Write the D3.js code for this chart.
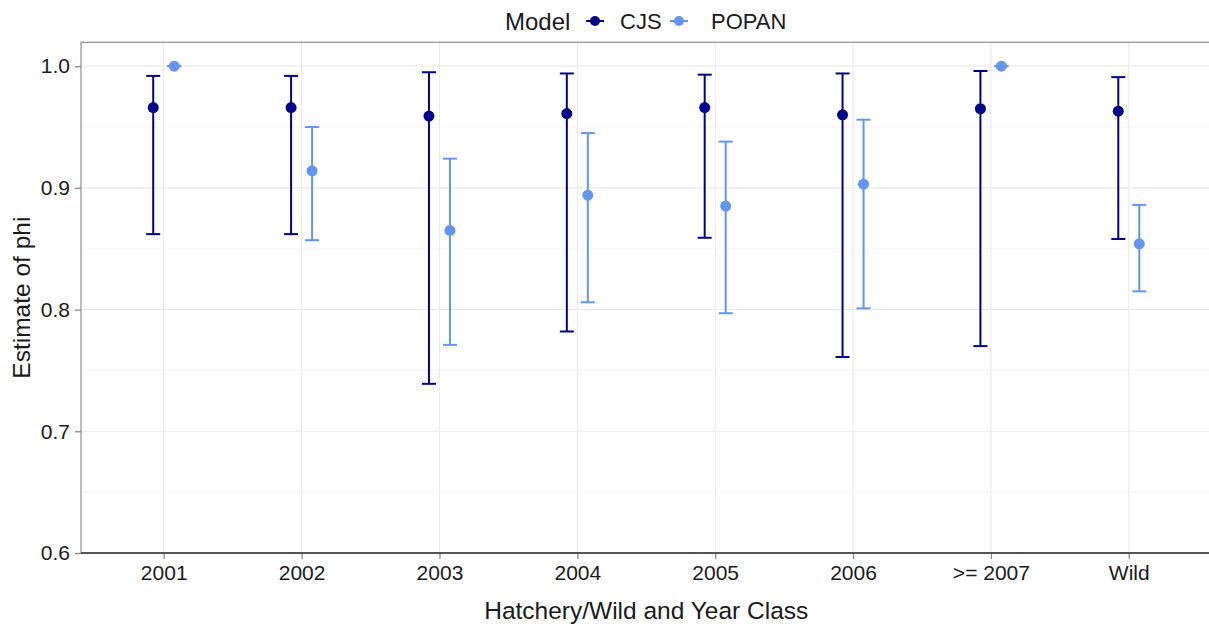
<!DOCTYPE html>
<meta charset="utf-8">
<style>
html, body {
  margin: 0;
  background: #fff;
}

text {
  font-family: "Liberation Sans", Arial, sans-serif;
  fill: #1a1a1a;
}

.grid line {
  stroke: #ebebeb;
  stroke-width: 1.1px;
}

.grid .minor {
  stroke: #f5f5f5;
}
</style>

<svg></svg>

<script src="https://d3js.org/d3.v7.min.js"></script>
<script>

// chart data
var categories = ['2001', '2002', '2003', '2004', '2005', '2006', '>= 2007', 'Wild'];
var models = ['CJS', 'POPAN'];

var cjsEst = [0.966, 0.966, 0.959, 0.961, 0.966, 0.960, 0.965, 0.963];
var cjsLow = [0.862, 0.862, 0.739, 0.782, 0.859, 0.761, 0.770, 0.858];
var cjsHigh = [0.992, 0.992, 0.995, 0.994, 0.993, 0.994, 0.996, 0.991];

var popanEst = [1.000, 0.914, 0.865, 0.894, 0.885, 0.903, 1.000, 0.854];
var popanLow = [1.000, 0.857, 0.771, 0.806, 0.797, 0.801, 1.000, 0.815];
var popanHigh = [1.000, 0.950, 0.924, 0.945, 0.938, 0.956, 1.000, 0.886];

var yTicks = [0.6, 0.7, 0.8, 0.9, 1.0];
var yMinor = [0.65, 0.75, 0.85, 0.95];

var colors = {CJS: '#00008b', POPAN: '#6495ed'};

var width = 1209, height = 624;
var panel = {left: 81, right: 1211.5, top: 42.3, bottom: 553};

// build rows from the arrays above
var rows = [];
categories.forEach(function (c, i) {
  rows.push({cat: c, model: 'CJS', est: cjsEst[i], lo: cjsLow[i], hi: cjsHigh[i]});
  rows.push({cat: c, model: 'POPAN', est: popanEst[i], lo: popanLow[i], hi: popanHigh[i]});
});

var svg = d3.select('svg')
  .attr('width', width)
  .attr('height', height);

var x = d3.scalePoint()
  .domain(categories)
  .range([panel.left, panel.right])
  .padding(0.6);

var y = d3.scaleLinear()
  .domain([0.6, 1.0196])
  .range([panel.bottom, panel.top]);

var dodge = d3.scalePoint()
  .domain(models)
  .range([-10.5, 10.5]);

// grid
var grid = svg.append('g').attr('class', 'grid');

grid.selectAll('.minor').data(yMinor)
  .enter().append('line')
  .attr('class', 'minor')
  .attr('x1', panel.left).attr('x2', panel.right)
  .attr('y1', function (d) { return y(d); })
  .attr('y2', function (d) { return y(d); });

grid.selectAll('.major-y').data(yTicks)
  .enter().append('line')
  .attr('class', 'major-y')
  .attr('x1', panel.left).attr('x2', panel.right)
  .attr('y1', function (d) { return y(d); })
  .attr('y2', function (d) { return y(d); });

grid.selectAll('.major-x').data(categories)
  .enter().append('line')
  .attr('class', 'major-x')
  .attr('y1', panel.top).attr('y2', panel.bottom)
  .attr('x1', function (d) { return x(d); })
  .attr('x2', function (d) { return x(d); });

// panel border
svg.append('rect')
  .attr('x', panel.left)
  .attr('y', panel.top)
  .attr('width', panel.right - panel.left)
  .attr('height', panel.bottom - panel.top)
  .attr('fill', 'none')
  .attr('stroke', '#999')
  .attr('stroke-width', 1.3);

// axes
var yAxis = svg.append('g')
  .attr('transform', 'translate(' + panel.left + ',0)')
  .call(d3.axisLeft(y).tickValues(yTicks).tickFormat(d3.format('.1f')).tickSize(6).tickPadding(5));

var xAxis = svg.append('g')
  .attr('transform', 'translate(0,' + panel.bottom + ')')
  .call(d3.axisBottom(x).tickSize(6).tickPadding(6));

[xAxis, yAxis].forEach(function (ax) {
  ax.select('.domain').remove();
  ax.selectAll('.tick line').attr('stroke', '#888').attr('stroke-width', 1.3);
  ax.selectAll('.tick text')
    .attr('fill', '#1a1a1a')
    .style('font-size', '21px')
    .style('font-family', '"Liberation Sans", Arial, sans-serif');
});

svg.append('line')
  .attr('x1', panel.left).attr('x2', panel.right)
  .attr('y1', panel.bottom).attr('y2', panel.bottom)
  .attr('stroke', '#333')
  .attr('stroke-width', 1.4);

// axis titles
svg.append('text')
  .attr('x', (panel.left + panel.right) / 2)
  .attr('y', 619)
  .attr('text-anchor', 'middle')
  .style('font-size', '24.5px')
  .text('Hatchery/Wild and Year Class');

svg.append('text')
  .attr('transform', 'translate(30,' + (panel.top + panel.bottom) / 2 + ') rotate(-90)')
  .attr('text-anchor', 'middle')
  .style('font-size', '24.5px')
  .text('Estimate of phi');

// error bars
var bars = svg.append('g').selectAll('g').data(rows)
  .enter().append('g')
  .attr('stroke', function (d) { return colors[d.model]; })
  .attr('stroke-width', 2);

bars.append('line')
  .attr('x1', function (d) { return x(d.cat) + dodge(d.model); })
  .attr('x2', function (d) { return x(d.cat) + dodge(d.model); })
  .attr('y1', function (d) { return y(d.lo); })
  .attr('y2', function (d) { return y(d.hi); });

bars.selectAll('.cap')
  .data(function (d) { return [d.lo, d.hi].map(function (v) { return {v: v, p: d}; }); })
  .enter().append('line')
  .attr('class', 'cap')
  .attr('x1', function (d) { return x(d.p.cat) + dodge(d.p.model) - 7; })
  .attr('x2', function (d) { return x(d.p.cat) + dodge(d.p.model) + 7; })
  .attr('y1', function (d) { return y(d.v); })
  .attr('y2', function (d) { return y(d.v); });

// points
svg.append('g').selectAll('circle').data(rows)
  .enter().append('circle')
  .attr('r', 5.5)
  .attr('cx', function (d) { return x(d.cat) + dodge(d.model); })
  .attr('cy', function (d) { return y(d.est); })
  .attr('fill', function (d) { return colors[d.model]; });

// legend
var legend = svg.append('g').attr('transform', 'translate(0,21)');

legend.append('text')
  .attr('x', 505)
  .attr('dy', '0.36em')
  .style('font-size', '24px')
  .text('Model');

var legendPos = {CJS: {key: 595, label: 620}, POPAN: {key: 679, label: 711}};

var items = legend.selectAll('.item').data(models)
  .enter().append('g')
  .attr('class', 'item');

items.append('line')
  .attr('x1', function (d) { return legendPos[d].key - 9; })
  .attr('x2', function (d) { return legendPos[d].key + 9; })
  .attr('stroke', function (d) { return colors[d]; })
  .attr('stroke-width', 2);

items.append('circle')
  .attr('cx', function (d) { return legendPos[d].key; })
  .attr('r', 5)
  .attr('fill', function (d) { return colors[d]; });

items.append('text')
  .attr('x', function (d) { return legendPos[d].label; })
  .attr('dy', '0.36em')
  .style('font-size', '22px')
  .text(function (d) { return d; });
</script>
